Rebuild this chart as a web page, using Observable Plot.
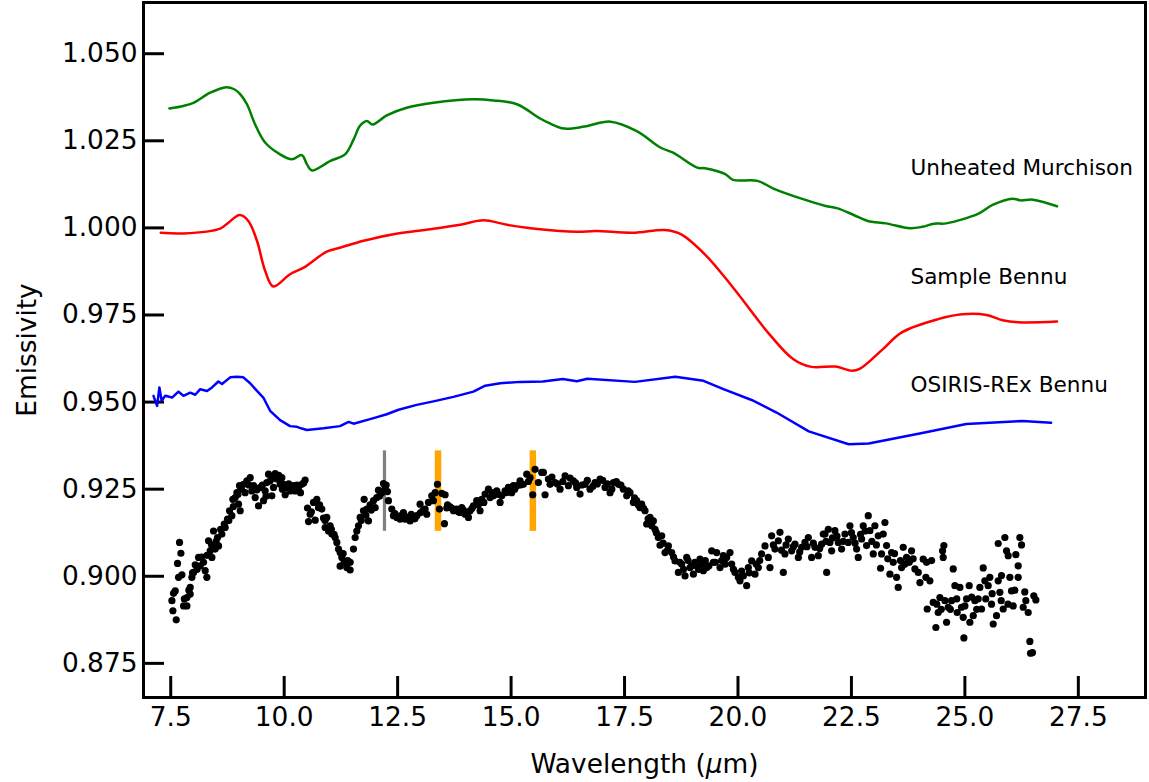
<!DOCTYPE html>
<html>
<head>
<meta charset="utf-8">
<script src="https://cdn.jsdelivr.net/npm/d3@7"></script>
<script src="https://cdn.jsdelivr.net/npm/@observablehq/plot@0.6"></script>
<style>
  body { margin: 0; background: #fff; }
  svg { display: block; }
</style>
</head>
<body>
<div id="chart"></div>
<script>
// Laboratory spectra (lines)
const murchisonWl = [7.47, 7.78, 8.00, 8.37, 8.72, 8.90, 9.03, 9.18, 9.36, 9.58, 9.91, 10.17, 10.39, 10.50, 10.61, 11.01, 11.34, 11.53, 11.67, 11.82, 11.95, 12.26, 12.70, 13.29, 14.17, 14.61, 15.13, 15.64, 15.82, 16.17, 16.62, 17.19, 17.77, 18.30, 18.57, 19.10, 19.27, 19.72, 19.89, 20.43, 20.78, 21.40, 21.93, 22.20, 22.55, 22.86, 23.26, 23.79, 24.06, 24.32, 24.59, 25.30, 25.61, 26.05, 26.23, 26.50, 27.03];
const murchisonEm = [1.0343, 1.0350, 1.0359, 1.0388, 1.0404, 1.0398, 1.0384, 1.0355, 1.0297, 1.0245, 1.0211, 1.0197, 1.0209, 1.0183, 1.0165, 1.0192, 1.0211, 1.0254, 1.0293, 1.0307, 1.0297, 1.0323, 1.0345, 1.0359, 1.0369, 1.0366, 1.0355, 1.0314, 1.0302, 1.0285, 1.0291, 1.0305, 1.0278, 1.0230, 1.0216, 1.0173, 1.0171, 1.0154, 1.0138, 1.0135, 1.0113, 1.0084, 1.0063, 1.0056, 1.0037, 1.0020, 1.0013, 0.9999, 1.0003, 1.0012, 1.0013, 1.0041, 1.0066, 1.0084, 1.0079, 1.0081, 1.0062];

const sampleWl = [7.28, 7.78, 8.59, 8.77, 9.02, 9.21, 9.40, 9.58, 9.76, 10.13, 10.43, 10.94, 11.23, 11.75, 12.41, 13.22, 13.88, 14.39, 14.91, 15.64, 16.44, 16.88, 17.68, 18.39, 18.74, 19.27, 19.89, 20.69, 21.22, 21.62, 22.15, 22.51, 22.68, 23.17, 23.61, 24.41, 24.94, 25.48, 25.83, 26.18, 27.03];
const sampleEm = [0.9986, 0.9984, 0.9998, 1.0015, 1.0037, 1.0020, 0.9963, 0.9877, 0.9832, 0.9867, 0.9886, 0.9932, 0.9943, 0.9963, 0.9982, 0.9996, 1.0009, 1.0022, 1.0009, 0.9996, 0.9989, 0.9991, 0.9986, 0.9994, 0.9982, 0.9924, 0.9829, 0.9695, 0.9623, 0.9601, 0.9602, 0.9590, 0.9595, 0.9649, 0.9700, 0.9738, 0.9752, 0.9750, 0.9735, 0.9729, 0.9731];

const orexWl = [7.12, 7.20, 7.25, 7.30, 7.38, 7.53, 7.67, 7.78, 7.93, 8.04, 8.15, 8.30, 8.41, 8.55, 8.63, 8.81, 8.96, 9.10, 9.25, 9.40, 9.54, 9.69, 9.91, 10.13, 10.28, 10.39, 10.50, 10.87, 11.23, 11.42, 11.53, 11.97, 12.26, 12.52, 12.92, 13.29, 13.73, 14.17, 14.43, 14.76, 15.20, 15.70, 16.14, 16.45, 16.68, 17.73, 18.62, 19.24, 19.68, 20.30, 20.85, 21.56, 22.44, 22.88, 24.06, 25.03, 26.27, 26.90];
const orexEm = [0.9518, 0.9489, 0.9542, 0.9504, 0.9518, 0.9513, 0.9530, 0.9518, 0.9527, 0.9521, 0.9537, 0.9532, 0.9542, 0.9559, 0.9552, 0.9571, 0.9573, 0.9571, 0.9554, 0.9532, 0.9513, 0.9475, 0.9448, 0.9431, 0.9429, 0.9424, 0.9420, 0.9425, 0.9431, 0.9443, 0.9438, 0.9454, 0.9465, 0.9478, 0.9492, 0.9502, 0.9515, 0.9530, 0.9547, 0.9554, 0.9558, 0.9559, 0.9566, 0.9560, 0.9567, 0.9558, 0.9573, 0.9561, 0.9537, 0.9506, 0.9470, 0.9416, 0.9379, 0.9381, 0.9411, 0.9437, 0.9446, 0.9441];

// Observed emissivity points
const spectrumWl = [7.526, 7.548, 7.562, 7.599, 7.621, 7.650, 7.672, 7.694, 7.724, 7.746, 7.782, 7.800, 7.856, 7.856, 7.900, 7.929, 7.929, 7.966, 7.980, 8.003, 8.040, 8.080, 8.113, 8.150, 8.180, 8.223, 8.260, 8.296, 8.300, 8.333, 8.370, 8.400, 8.407, 8.443, 8.480, 8.500, 8.531, 8.554, 8.600, 8.627, 8.680, 8.700, 8.752, 8.780, 8.796, 8.847, 8.869, 8.880, 8.921, 8.958, 8.980, 8.994, 9.016, 9.031, 9.060, 9.104, 9.140, 9.178, 9.220, 9.251, 9.288, 9.324, 9.361, 9.400, 9.435, 9.471, 9.520, 9.545, 9.581, 9.600, 9.618, 9.655, 9.691, 9.728, 9.740, 9.765, 9.802, 9.838, 9.880, 9.911, 9.948, 9.960, 9.985, 10.022, 10.058, 10.100, 10.132, 10.180, 10.205, 10.242, 10.280, 10.315, 10.360, 10.389, 10.430, 10.462,
  10.514, 10.536, 10.572, 10.600, 10.646, 10.683, 10.719, 10.756, 10.780, 10.829, 10.866, 10.900, 10.903, 10.939, 10.976, 11.013, 11.040, 11.050, 11.100, 11.123, 11.160, 11.197, 11.233, 11.233, 11.270, 11.300, 11.321, 11.380, 11.400, 11.454, 11.454, 11.527, 11.564, 11.600, 11.637, 11.674, 11.700, 11.747, 11.762, 11.800, 11.821, 11.857, 11.894, 11.920, 11.968, 12.004, 12.041, 12.078, 12.100, 12.151, 12.188, 12.220, 12.247, 12.276, 12.298,
  12.371, 12.408, 12.440, 12.481, 12.520, 12.555, 12.600, 12.628, 12.665, 12.700, 12.738, 12.775, 12.800, 12.848, 12.880, 12.922, 12.995, 13.000, 13.054, 13.106, 13.142, 13.179, 13.252, 13.289, 13.326, 13.377, 13.421, 13.473, 13.531, 13.546, 13.583, 13.600, 13.656, 13.700, 13.730, 13.803, 13.840, 13.876, 13.913, 13.950, 13.987, 14.030, 14.060, 14.097, 14.140, 14.170, 14.243, 14.280, 14.317, 14.354, 14.400, 14.427, 14.501, 14.537, 14.580, 14.611, 14.684, 14.720, 14.758, 14.794, 14.868, 14.900, 14.941, 15.014, 15.051, 15.080, 15.125, 15.198, 15.200, 15.271, 15.345, 15.380, 15.418, 15.477, 15.528, 15.602, 15.675, 15.712, 15.749, 15.822, 15.859, 15.900, 15.968,
  16.020, 16.079, 16.140, 16.190, 16.263, 16.300, 16.373, 16.420, 16.447, 16.520, 16.560, 16.630, 16.680, 16.740, 16.800, 16.850, 16.900, 16.961, 17.020, 17.071, 17.120, 17.181, 17.220, 17.254, 17.320, 17.365, 17.420, 17.475, 17.548, 17.580, 17.621, 17.695, 17.720, 17.768, 17.800, 17.841, 17.878, 17.920, 17.952, 17.988, 18.020, 18.062, 18.100, 18.135, 18.172, 18.200, 18.245, 18.282, 18.319, 18.350, 18.392, 18.450, 18.466, 18.539, 18.580, 18.613, 18.686, 18.720, 18.759, 18.800, 18.833, 18.870, 18.900, 18.943, 18.980, 19.017, 19.050, 19.090, 19.130, 19.163, 19.200, 19.237, 19.280, 19.310, 19.360, 19.420, 19.457, 19.500, 19.530, 19.604, 19.640, 19.677, 19.720, 19.751, 19.824, 19.861, 19.900, 19.934,
  20.008, 20.044, 20.080, 20.118, 20.191, 20.228, 20.250, 20.301, 20.375, 20.400, 20.448, 20.480, 20.521, 20.595, 20.668, 20.705, 20.742, 20.780, 20.815, 20.889, 20.925, 20.960, 20.999, 21.035, 21.060, 21.109, 21.183, 21.220, 21.256, 21.330, 21.360, 21.403, 21.476, 21.520, 21.550, 21.623, 21.660, 21.697, 21.770, 21.800, 21.843, 21.879, 21.917, 21.940, 21.954, 21.990, 22.026, 22.064, 22.080, 22.136, 22.180, 22.210, 22.283, 22.320, 22.357, 22.430, 22.467, 22.500, 22.540, 22.580, 22.614, 22.650, 22.700, 22.724, 22.760, 22.800, 22.834, 22.871, 22.907, 22.950, 22.981, 23.017, 23.050, 23.091, 23.142, 23.164, 23.201, 23.238, 23.274, 23.300, 23.348, 23.385, 23.421, 23.450, 23.495, 23.531, 23.580, 23.605, 23.641, 23.680, 23.715, 23.774, 23.825, 23.860, 23.899, 23.972,
  24.009, 24.082, 24.141, 24.156, 24.170, 24.229, 24.266, 24.302, 24.361, 24.380, 24.412, 24.449, 24.480, 24.508, 24.522, 24.537, 24.560, 24.596, 24.633, 24.680, 24.706, 24.743, 24.780, 24.820, 24.831, 24.890, 24.926, 24.963, 24.978, 25.000, 25.037, 25.095, 25.110, 25.150, 25.184, 25.220, 25.260, 25.293, 25.330, 25.367, 25.404, 25.440, 25.460, 25.514, 25.550, 25.587, 25.600, 25.624, 25.697, 25.734, 25.734, 25.771, 25.800, 25.807, 25.844, 25.881, 25.917, 25.950, 25.954, 25.991, 26.028, 26.064, 26.100, 26.123, 26.175, 26.175, 26.211, 26.248, 26.285, 26.320, 26.343, 26.395, 26.432, 26.446, 26.490, 26.519, 26.564];
const spectrumEm = [0.8930, 0.8901, 0.8951, 0.8958, 0.8875, 0.9037, 0.8997, 0.9097, 0.9066, 0.9004, 0.8915, 0.8935, 0.8915, 0.8939, 0.8960, 0.8949, 0.8968, 0.8997, 0.9010, 0.9011, 0.9033, 0.9020, 0.9054, 0.9030, 0.9055, 0.9040, 0.9016, 0.8997, 0.9060, 0.9102, 0.9073, 0.9090, 0.9054, 0.9130, 0.9078, 0.9100, 0.9111, 0.9087, 0.9135, 0.9121, 0.9150, 0.9140, 0.9164, 0.9160, 0.9188, 0.9174, 0.9221, 0.9200, 0.9226, 0.9240, 0.9235, 0.9207, 0.9260, 0.9188, 0.9250, 0.9264, 0.9240, 0.9274, 0.9262, 0.9283, 0.9245, 0.9260, 0.9226, 0.9248, 0.9202, 0.9255, 0.9262, 0.9217, 0.9245, 0.9230, 0.9269, 0.9293, 0.9274, 0.9231, 0.9282, 0.9255, 0.9295, 0.9279, 0.9290, 0.9264, 0.9283, 0.9250, 0.9264, 0.9234, 0.9255, 0.9265, 0.9245, 0.9248, 0.9260, 0.9245, 0.9262, 0.9255, 0.9240, 0.9264, 0.9268, 0.9276,
  0.9196, 0.9157, 0.9178, 0.9185, 0.9212, 0.9161, 0.9221, 0.9197, 0.9205, 0.9193, 0.9167, 0.9160, 0.9140, 0.9169, 0.9130, 0.9145, 0.9135, 0.9121, 0.9120, 0.9111, 0.9097, 0.9078, 0.9068, 0.9029, 0.9054, 0.9065, 0.9040, 0.9025, 0.9045, 0.9018, 0.9040, 0.9078, 0.9111, 0.9130, 0.9145, 0.9169, 0.9160, 0.9188, 0.9221, 0.9175, 0.9193, 0.9159, 0.9205, 0.9190, 0.9217, 0.9197, 0.9226, 0.9247, 0.9230, 0.9240, 0.9266, 0.9250, 0.9262, 0.9243, 0.9217,
  0.9193, 0.9174, 0.9180, 0.9169, 0.9172, 0.9164, 0.9176, 0.9183, 0.9164, 0.9170, 0.9169, 0.9159, 0.9178, 0.9169, 0.9165, 0.9174, 0.9207, 0.9182, 0.9188, 0.9193, 0.9178, 0.9212, 0.9231, 0.9217, 0.9240, 0.9264, 0.9193, 0.9238, 0.9151, 0.9234, 0.9196, 0.9205, 0.9199, 0.9195, 0.9188, 0.9193, 0.9185, 0.9183, 0.9197, 0.9190, 0.9178, 0.9180, 0.9169, 0.9188, 0.9195, 0.9202, 0.9217, 0.9205, 0.9188, 0.9221, 0.9212, 0.9236, 0.9250, 0.9226, 0.9240, 0.9231, 0.9245, 0.9235, 0.9212, 0.9231, 0.9245, 0.9240, 0.9255, 0.9240, 0.9260, 0.9250, 0.9260, 0.9274, 0.9262, 0.9264, 0.9293, 0.9272, 0.9283, 0.9234, 0.9307, 0.9269, 0.9298, 0.9298, 0.9234, 0.9279, 0.9264, 0.9285, 0.9269,
  0.9265, 0.9250, 0.9272, 0.9288, 0.9260, 0.9282, 0.9274, 0.9268, 0.9255, 0.9236, 0.9262, 0.9264, 0.9275, 0.9250, 0.9258, 0.9269, 0.9265, 0.9279, 0.9275, 0.9255, 0.9265, 0.9240, 0.9250, 0.9269, 0.9272, 0.9264, 0.9262, 0.9250, 0.9231, 0.9245, 0.9240, 0.9212, 0.9225, 0.9217, 0.9205, 0.9197, 0.9207, 0.9195, 0.9188, 0.9150, 0.9165, 0.9169, 0.9145, 0.9159, 0.9135, 0.9125, 0.9111, 0.9089, 0.9116, 0.9095, 0.9068, 0.9075, 0.9087, 0.9068, 0.9055, 0.9044, 0.9011, 0.9040, 0.9035, 0.9020, 0.9001, 0.9054, 0.9045, 0.9025, 0.9030, 0.9006, 0.9040, 0.9030, 0.9020, 0.9049, 0.9035, 0.9016, 0.9045, 0.9025, 0.9030, 0.9073, 0.9040, 0.9040, 0.9068, 0.9025, 0.9045, 0.9059, 0.9035, 0.9054, 0.9068, 0.9035, 0.9020, 0.9011,
  0.8997, 0.8987, 0.9015, 0.9001, 0.8973, 0.9025, 0.9010, 0.9044, 0.9006, 0.9035, 0.9025, 0.9045, 0.9064, 0.9087, 0.9054, 0.9025, 0.9116, 0.9090, 0.9078, 0.9102, 0.9126, 0.9075, 0.9011, 0.9064, 0.9090, 0.9107, 0.9073, 0.9085, 0.9092, 0.9054, 0.9070, 0.9083, 0.9097, 0.9085, 0.9111, 0.9054, 0.9095, 0.9083, 0.9059, 0.9080, 0.9092, 0.9121, 0.9121, 0.9100, 0.9011, 0.9135, 0.9097, 0.9073, 0.9110, 0.9131, 0.9115, 0.9097, 0.9078, 0.9100, 0.9121, 0.9097, 0.9145, 0.9125, 0.9111, 0.9095, 0.9078, 0.9054, 0.9120, 0.9107, 0.9145, 0.9130, 0.9088, 0.9174, 0.9131, 0.9100, 0.9064, 0.9145, 0.9090, 0.9116, 0.9023, 0.9064, 0.9121, 0.9154, 0.9088, 0.9050, 0.9006, 0.9068, 0.9040, 0.9065, 0.8997, 0.8968, 0.9045, 0.9025, 0.9083, 0.9035, 0.9054, 0.9040, 0.9073, 0.9050, 0.9021, 0.9011,
  0.8982, 0.9049, 0.8997, 0.9040, 0.8906, 0.8987, 0.9045, 0.8925, 0.8853, 0.8920, 0.8896, 0.8939, 0.8905, 0.9073, 0.9054, 0.9088, 0.8930, 0.8868, 0.8911, 0.8905, 0.8930, 0.9021, 0.8973, 0.8935, 0.8896, 0.8968, 0.8911, 0.8882, 0.8823, 0.8915, 0.8935, 0.8973, 0.8868, 0.8940, 0.8887, 0.8930, 0.8905, 0.8935, 0.8968, 0.8906, 0.9024, 0.8987, 0.8935, 0.8973, 0.8997, 0.8920, 0.8950, 0.8863, 0.8887, 0.8987, 0.9094, 0.8954, 0.8930, 0.9002, 0.8906, 0.9111, 0.9073, 0.8920, 0.9059, 0.8997, 0.8958, 0.8915, 0.8960, 0.9062, 0.9030, 0.8997, 0.9111, 0.9090, 0.8911, 0.8955, 0.8930, 0.8896, 0.8813, 0.8779, 0.8781, 0.8944, 0.8932];

// Band markers
const grayBandWl = [12.21];
const orangeBandWl = [13.39, 15.48];
const bandSpan = [0.9129, 0.9360];

// Curve labels
const curveNames = ["Unheated Murchison", "Sample Bennu", "OSIRIS-REx Bennu"];
const curveLabelWl = [23.8, 23.8, 23.8];
const curveLabelEm = [1.0151, 0.9840, 0.9530];

// Axes
const xTicks = [7.5, 10.0, 12.5, 15.0, 17.5, 20.0, 22.5, 25.0, 27.5];
const yTicks = [0.875, 0.900, 0.925, 0.950, 0.975, 1.000, 1.025, 1.050];
const xDomain = [6.90, 28.98];
const yDomain = [0.8652, 1.0647];
const xLabel = "Wavelength (μm)";
const yLabel = "Emissivity";

const zip = (xs, ys) => xs.map((x, i) => ({x, y: ys[i]}));
const murchison = zip(murchisonWl, murchisonEm);
const sample = zip(sampleWl, sampleEm);
const orex = zip(orexWl, orexEm);
const spectrum = zip(spectrumWl, spectrumEm);
const curveLabels = curveNames.map((name, i) => ({name, x: curveLabelWl[i], y: curveLabelEm[i]}));

const W = 1149, H = 782;
const mL = 143, mR = 4, mT = 2, mB = 85;
const plotW = W - mL - mR, plotH = H - mT - mB;
const tickLen = 21;
const bigFont = 26.4;

const chart = Plot.plot({
  width: W,
  height: H,
  marginLeft: mL,
  marginRight: mR,
  marginTop: mT,
  marginBottom: mB,
  style: {fontFamily: "DejaVu Sans, sans-serif", fontSize: bigFont + "px", color: "#000", background: "#fff"},
  x: {domain: xDomain},
  y: {domain: yDomain},
  marks: [
    Plot.axisX(xTicks, {tickSize: 0, tickPadding: 9.5, tickFormat: d3.format(".1f"), label: null, fontSize: bigFont}),
    Plot.axisY(yTicks, {tickSize: 0, tickPadding: 6, tickFormat: d3.format(".3f"), label: null, fontSize: bigFont}),
    // inward ticks
    Plot.tickX(xTicks, {x: d => d, insetTop: plotH - tickLen, stroke: "#000", strokeWidth: 3}),
    Plot.tickY(yTicks, {y: d => d, insetRight: plotW - tickLen, stroke: "#000", strokeWidth: 3}),
    Plot.line(murchison, {x: "x", y: "y", stroke: "#008000", strokeWidth: 2.5, curve: "catmull-rom"}),
    Plot.line(sample, {x: "x", y: "y", stroke: "#ff0000", strokeWidth: 2.5, curve: "catmull-rom"}),
    Plot.line(orex, {x: "x", y: "y", stroke: "#0000ff", strokeWidth: 2.5}),
    Plot.ruleX(grayBandWl, {x: d => d, y1: bandSpan[0], y2: bandSpan[1], stroke: "#808080", strokeWidth: 3.2}),
    Plot.ruleX(orangeBandWl, {x: d => d, y1: bandSpan[0], y2: bandSpan[1], stroke: "#ffa500", strokeWidth: 6.5}),
    Plot.dot(spectrum, {x: "x", y: "y", r: 3.6, fill: "#000", stroke: null}),
    Plot.text(curveLabels, {x: "x", y: "y", text: "name", textAnchor: "start", lineAnchor: "bottom", fontSize: 21.6, fill: "#000"}),
    Plot.frame({stroke: "#000", strokeWidth: 3}),
    Plot.text([yLabel], {frameAnchor: "left", dx: -116, rotate: -90, textAnchor: "middle", lineAnchor: "middle", fontSize: bigFont, fill: "#000"}),
    Plot.text([xLabel], {frameAnchor: "bottom", dy: 75, textAnchor: "middle", lineAnchor: "bottom", fontSize: bigFont, fill: "#000"})
  ]
});

// italic mu in the x-axis label
d3.select(chart).selectAll("text").filter(function () { return this.textContent === xLabel; })
  .each(function () {
    const t = d3.select(this);
    t.text(null);
    t.append("tspan").text("Wavelength (");
    t.append("tspan").attr("font-style", "italic").text("μ");
    t.append("tspan").text("m)");
  });

document.getElementById("chart").appendChild(chart);
</script>
</body>
</html>
